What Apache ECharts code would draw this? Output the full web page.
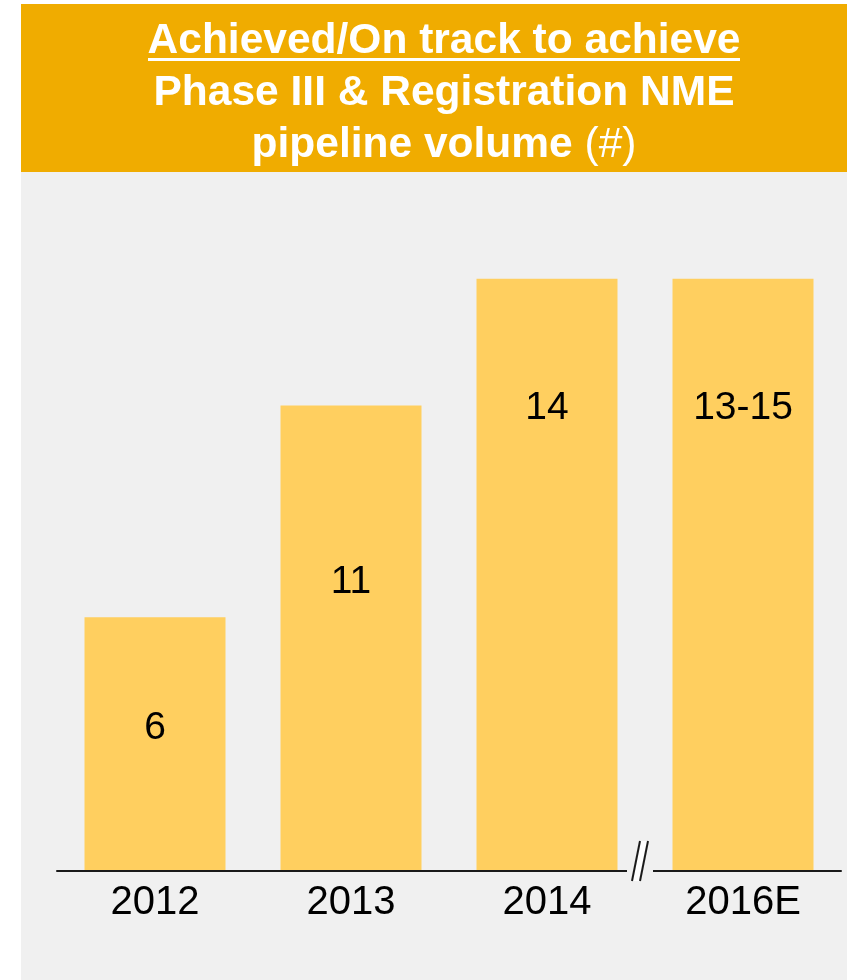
<!DOCTYPE html>
<html>
<head>
<meta charset="utf-8">
<title>NME pipeline volume</title>
<script src="https://cdn.jsdelivr.net/npm/echarts@6/dist/echarts.min.js"></script>
<style>
  html, body { margin: 0; padding: 0; background: #ffffff; }
  #chart { width: 847px; height: 980px; }
</style>
</head>
<body>
<div id="chart"></div>
<script>
// chart data
const categories = ['2012', '2013', '2014', '2016E']
const values = [6, 11, 14, 14]
const valueLabels = ['6', '11', '14', '13-15']

// how far below the bar top each value label sits (px)
const labelDrop = [111, 177, 130, 130]

const FONT = '"Liberation Sans", Arial, sans-serif'
const BANNER = '#F0AC00'
const BAR = '#FFCF5F'
const PANEL = '#F0F0F0'

const chart = echarts.init(document.getElementById('chart'))

chart.setOption({
  animation: false,
  backgroundColor: '#ffffff',
  title: {
    text: '{b|Achieved/On track to achieve}\n{b|Phase III & Registration NME}\n{b|pipeline volume }{n|(#)}',
    left: 444,
    top: 15,
    textAlign: 'center',
    padding: 0,
    textStyle: {
      rich: {
        b: { fontFamily: FONT, fontSize: 42.5, fontWeight: 'bold', color: '#fff', lineHeight: 52 },
        n: { fontFamily: FONT, fontSize: 42.5, fontWeight: 'normal', color: '#fff', lineHeight: 52 }
      }
    }
  },
  graphic: [
    { type: 'rect', z: -10, shape: { x: 21, y: 4, width: 826, height: 168 }, style: { fill: BANNER } },
    { type: 'rect', z: -10, shape: { x: 21, y: 172, width: 826, height: 808 }, style: { fill: PANEL } },
    // underline of the first title line
    { type: 'rect', z: 10, shape: { x: 148, y: 58, width: 592, height: 3 }, style: { fill: '#fff' } },
    // axis break
    { type: 'rect', z: 20, shape: { x: 627, y: 866, width: 26, height: 10 }, style: { fill: PANEL } },
    {
      type: 'polygon', z: 21,
      shape: { points: [[632, 881], [640, 841], [648, 841], [640, 881]] },
      style: { fill: '#fff' }
    },
    { type: 'line', z: 22, shape: { x1: 632, y1: 881, x2: 640, y2: 841 }, style: { stroke: '#1a1a1a', lineWidth: 2 } },
    { type: 'line', z: 22, shape: { x1: 640, y1: 881, x2: 648, y2: 841 }, style: { stroke: '#1a1a1a', lineWidth: 2 } }
  ],
  grid: {
    left: 57,
    right: 6,
    top: 194,
    bottom: 109
  },
  xAxis: {
    type: 'category',
    z: 5,
    data: categories,
    axisTick: { show: false },
    axisLine: { lineStyle: { color: '#1a1a1a', width: 2 } },
    axisLabel: {
      color: '#000',
      fontFamily: FONT,
      fontSize: 40,
      margin: 12
    }
  },
  yAxis: {
    type: 'value',
    min: 0,
    max: 16,
    show: false
  },
  series: [
    {
      type: 'bar',
      barWidth: 141,
      itemStyle: { color: BAR },
      data: values.map((v, i) => ({
        value: v,
        label: {
          show: true,
          position: ['50%', labelDrop[i]],
          align: 'center',
          verticalAlign: 'middle',
          formatter: valueLabels[i],
          color: '#000',
          fontFamily: FONT,
          fontSize: 39
        }
      }))
    }
  ]
})
</script>
</body>
</html>
